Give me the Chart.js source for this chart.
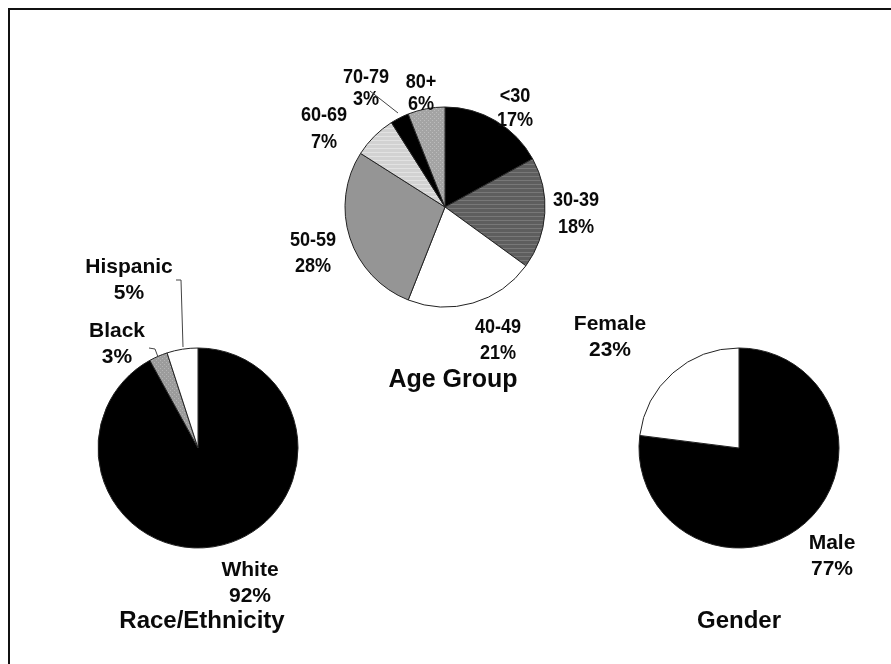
<!DOCTYPE html>
<html>
<head>
<meta charset="utf-8">
<script src="https://cdn.jsdelivr.net/npm/chart.js@4/dist/chart.umd.min.js"></script>
<style>
  html, body { margin: 0; padding: 0; background: #fff; }
  #wrap { position: relative; width: 891px; height: 664px; overflow: hidden; }
  #frame { position: absolute; left: 8px; top: 8px; width: 900px; height: 700px;
           border-left: 2px solid #111; border-top: 2px solid #111; }
  canvas { position: absolute; left: 0; top: 0; }
</style>
</head>
<body>
<div id="wrap">
  <div id="frame"></div>
  <canvas id="ageChart" width="891" height="664"></canvas>
  <canvas id="raceChart" width="891" height="664"></canvas>
  <canvas id="genderChart" width="891" height="664"></canvas>
</div>
<script>
// data
const ageLabels = ['<30', '30-39', '40-49', '50-59', '60-69', '70-79', '80+'];
const ageValues = [17, 18, 21, 28, 7, 3, 6];
const raceLabels = ['White', 'Black', 'Hispanic'];
const raceValues = [92, 3, 5];
const genderLabels = ['Male', 'Female'];
const genderValues = [77, 23];

const W = 891, H = 664, R = 100;
const FONT = '"Liberation Sans", Arial, sans-serif';

function pattern(base, line, kind) {
    const c = document.createElement('canvas');
    c.width = 4; c.height = 4;
    const g = c.getContext('2d');
    g.fillStyle = base;
    g.fillRect(0, 0, 4, 4);
    g.fillStyle = line;
    if (kind === 'hline') {
        g.fillRect(0, 0, 4, 1);
    } else {
        g.fillRect(0, 0, 1, 1);
        g.fillRect(2, 2, 1, 1);
    }
    return g.createPattern(c, 'repeat');
}

function squeezedText(ctx, text, x, y, sx) {
    ctx.save();
    ctx.translate(x, y);
    ctx.scale(sx, 1);
    ctx.fillText(text, 0, 0);
    ctx.restore();
}

// label block offsets from the pie centre, leader lines, titles
const pieLabels = {
    id: 'pieLabels',
    afterDraw(chart, args, opts) {
        const ctx = chart.ctx;
        const arc = chart.getDatasetMeta(0).data[0];
        const cx = arc.x, cy = arc.y;
        const vals = chart.data.datasets[0].data;
        const sx = opts.squeeze || 1;
        ctx.save();
        ctx.fillStyle = '#0a0a0a';
        ctx.textAlign = 'center';
        ctx.textBaseline = 'middle';
        ctx.font = 'bold ' + opts.size + 'px ' + FONT;
        chart.data.labels.forEach((lab, i) => {
            const [dx, dy] = opts.offsets[i];
            const gap = opts.gaps ? opts.gaps[i] : 26;
            squeezedText(ctx, lab, cx + dx, cy + dy - gap / 2, sx);
            squeezedText(ctx, vals[i] + '%', cx + dx, cy + dy + gap / 2, sx);
        });
        ctx.strokeStyle = '#444';
        ctx.lineWidth = 1;
        (opts.leaders || []).forEach(pts => {
            ctx.beginPath();
            pts.forEach(([x, y], k) => k ? ctx.lineTo(cx + x, cy + y) : ctx.moveTo(cx + x, cy + y));
            ctx.stroke();
        });
        ctx.font = 'bold ' + opts.titleSize + 'px ' + FONT;
        ctx.fillText(opts.title, cx + opts.titleOffset[0], cy + opts.titleOffset[1]);
        ctx.restore();
    }
};

function makePie(id, labels, values, colors, centre, labelOpts) {
    const [x, y] = centre;
    new Chart(document.getElementById(id), {
        type: 'pie',
        data: {
            labels: labels,
            datasets: [{
                data: values,
                backgroundColor: colors,
                borderColor: '#222',
                borderWidth: 1,
                hoverOffset: 0
            }]
        },
        options: {
            responsive: false,
            animation: false,
            events: [],
            devicePixelRatio: 1,
            radius: R,
            layout: { padding: { left: x - R, right: W - x - R, top: y - R, bottom: H - y - R } },
            plugins: {
                legend: { display: false },
                tooltip: { enabled: false },
                pieLabels: labelOpts
            }
        },
        plugins: [pieLabels]
    });
}

const stripes = pattern('#5e5e5e', '#787878', 'hline');
const light = pattern('#d2d2d2', '#e2e2e2', 'hline');
const dotted = pattern('#a4a4a4', '#bcbcbc', 'dots');
const dotted2 = pattern('#9c9c9c', '#b4b4b4', 'dots');

makePie('ageChart', ageLabels, ageValues,
    ['#000000', stripes, '#ffffff', '#959595', light, '#000000', dotted],
    [445, 207], {
        size: 21,
        squeeze: 0.86,
        titleSize: 25,
        offsets: [[70, -99], [131, 7], [53, 133], [-132, 46], [-121, -78], [-79, -119], [-24, -114]],
        gaps: [24, 27, 26, 26, 27, 22, 22],
        leaders: [[[-75, -116], [-47, -94]]],
        title: 'Age Group',
        titleOffset: [8, 173]
    });

makePie('raceChart', raceLabels, raceValues,
    ['#000000', dotted2, '#ffffff'],
    [198, 448], {
        size: 21,
        titleSize: 24,
        offsets: [[52, 135], [-81, -104], [-69, -168]],
        leaders: [[[-22, -168], [-17, -168], [-15, -101]], [[-49, -100], [-43, -99], [-40, -91]]],
        title: 'Race/Ethnicity',
        titleOffset: [4, 173]
    });

makePie('genderChart', genderLabels, genderValues,
    ['#000000', '#ffffff'],
    [739, 448], {
        size: 21,
        titleSize: 24,
        offsets: [[93, 108], [-129, -111]],
        title: 'Gender',
        titleOffset: [0, 173]
    });
</script>
</body>
</html>
